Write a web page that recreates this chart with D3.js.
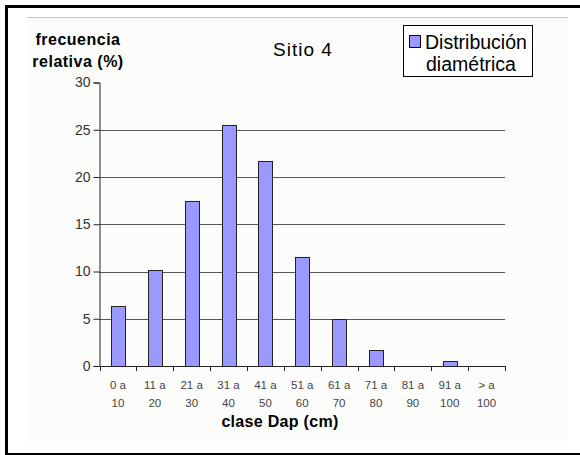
<!DOCTYPE html>
<html><head><meta charset="utf-8">
<script src="https://cdn.jsdelivr.net/npm/d3@7"></script>
<style>body{margin:0;background:#fff}svg{display:block}</style>
</head><body>
<script>
const categories = [["0 a","10"],["11 a","20"],["21 a","30"],["31 a","40"],["41 a","50"],["51 a","60"],["61 a","70"],["71 a","80"],["81 a","90"],["91 a","100"],["> a","100"]];
const values = [6.3, 10.2, 17.5, 25.5, 21.7, 11.5, 5.0, 1.7, 0, 0.5, 0];
const yTicks = [0, 5, 10, 15, 20, 25, 30];
const title = "Sitio 4";
const yTitle = ["frecuencia", "relativa (%)"];
const xTitle = "clase Dap (cm)";
const legendLabel = ["Distribución", "diamétrica"];

const W = 580, H = 455;
const svg = d3.select("body").append("svg").attr("width", W).attr("height", H);
const font = "Arial, 'Liberation Sans', sans-serif";

// frame
svg.append("rect").attr("x",27).attr("y",17).attr("width",541).attr("height",429).attr("fill","#fcfdfa");
svg.append("line").attr("x1",27).attr("x2",568).attr("y1",17.5).attr("y2",17.5).attr("stroke","#c4c4c4");
svg.append("rect").attr("x",5).attr("y",5).attr("width",3).attr("height",450).attr("fill","#000");
svg.append("rect").attr("x",5).attr("y",5).attr("width",575).attr("height",3).attr("fill","#000");
svg.append("rect").attr("x",5).attr("y",453).attr("width",575).attr("height",2).attr("fill","#000");

const x0 = 99.5, x1 = 505, yTop = 82.5, yBot = 366;
const x = d3.scaleBand().domain(d3.range(categories.length)).range([x0, x1]).paddingInner(0).paddingOuter(0);
const y = d3.scaleLinear().domain([0, 30]).range([yBot, yTop]);

// gridlines
svg.append("g").selectAll("line").data(yTicks.filter(t => t > 0 && t < 30)).join("line")
  .attr("x1", x0).attr("x2", x1)
  .attr("y1", d => Math.round(y(d)) + 0.5).attr("y2", d => Math.round(y(d)) + 0.5)
  .attr("stroke", "#555").attr("stroke-width", 1);

// bars
const bw = 14;
svg.append("g").selectAll("rect").data(values).join("rect")
  .attr("x", (d, i) => Math.round(x(i) + x.bandwidth() / 2 - bw / 2) + 0.5)
  .attr("y", d => Math.round(y(d)) + 0.5)
  .attr("width", bw)
  .attr("height", d => Math.max(0, Math.round(yBot) - Math.round(y(d))))
  .attr("fill", d => d > 0 ? "#9999ff" : "none")
  .attr("stroke", d => d > 0 ? "#222" : "none")
  .attr("stroke-width", 1);

// y axis
const yAxis = d3.axisLeft(y).tickValues(yTicks).tickSize(6).tickPadding(3);
const gy = svg.append("g").attr("transform", `translate(${x0},0)`).call(yAxis);
gy.select(".domain").attr("stroke", "#222");
gy.selectAll(".tick line").attr("stroke", "#222");
gy.selectAll(".tick text").attr("font-family", font).attr("font-size", 14).attr("fill", "#333");

// x axis
const xAxis = d3.axisBottom(x).tickSize(0).tickFormat("");
const gx = svg.append("g").attr("transform", `translate(0,${yBot})`).call(xAxis);
gx.select(".domain").attr("stroke", "#222");
gx.selectAll(".tick").remove();
const xt = d3.range(categories.length + 1).map(i => x0 + i * x.bandwidth());
gx.selectAll("line.tk").data(xt).join("line").attr("class","tk")
  .attr("x1", d => Math.round(d) + 0.5).attr("x2", d => Math.round(d) + 0.5)
  .attr("y1", 0).attr("y2", 5).attr("stroke", "#222");

const lab = svg.append("g");
categories.forEach((c, i) => {
  const cx = x(i) + x.bandwidth() / 2;
  c.forEach((s, j) => {
    lab.append("text").attr("x", cx).attr("y", 389 + j * 18)
      .attr("text-anchor", "middle").attr("font-family", font).attr("font-size", 11.5)
      .attr("fill", "#444").text(s);
  });
});

// titles
svg.append("text").attr("x", 303).attr("y", 55.5).attr("text-anchor","middle")
  .attr("font-family", font).attr("font-size", 19).attr("letter-spacing", 1).attr("fill","#000").text(title);
yTitle.forEach((s, j) => {
  svg.append("text").attr("x", 78).attr("y", 45 + j * 22).attr("text-anchor","middle")
    .attr("font-family", font).attr("font-size", 16).attr("letter-spacing", 0.5)
    .attr("font-weight","bold").attr("fill","#000").text(s);
});
svg.append("text").attr("x", 280).attr("y", 427).attr("text-anchor","middle")
  .attr("font-family", font).attr("font-size", 16).attr("letter-spacing", 0.3)
  .attr("font-weight","bold").attr("fill","#000").text(xTitle);

// legend
const lg = svg.append("g");
lg.append("rect").attr("x", 403.5).attr("y", 25.5).attr("width", 129).attr("height", 51)
  .attr("fill", "#fff").attr("stroke", "#000");
lg.append("rect").attr("x", 409.5).attr("y", 35.5).attr("width", 11).attr("height", 12)
  .attr("fill", "#9999ff").attr("stroke", "#000");
lg.append("text").attr("x", 425).attr("y", 49).attr("font-family", font).attr("font-size", 19.5).text(legendLabel[0]);
lg.append("text").attr("x", 471).attr("y", 70.5).attr("text-anchor","middle").attr("font-family", font).attr("font-size", 19.5).text(legendLabel[1]);
</script>
</body></html>
